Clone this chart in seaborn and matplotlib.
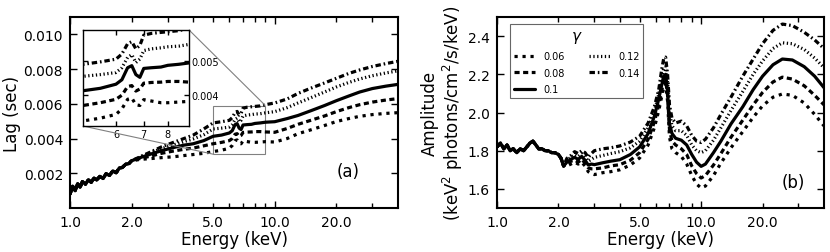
import numpy as np
import pandas as pd
import matplotlib
matplotlib.use("Agg")
import matplotlib.pyplot as plt
import seaborn as sns
from matplotlib.ticker import FixedLocator, FuncFormatter, FormatStrFormatter, NullLocator
from mpl_toolkits.axes_grid1.inset_locator import mark_inset

# ---- panel (a): lag vs energy ----
# below ~2 keV all curves lie on top of each other
e_lo_a = [1.00, 1.03, 1.06, 1.09, 1.12, 1.15, 1.19, 1.23, 1.27, 1.31, 1.35, 1.40,
          1.45, 1.50, 1.56, 1.62, 1.68, 1.74, 1.80, 1.87, 1.94, 2.00]
lag_lo = [0.00080, 0.00125, 0.00100, 0.00140, 0.00120, 0.00152, 0.00138, 0.00162,
          0.00148, 0.00172, 0.00162, 0.00182, 0.00170, 0.00197, 0.00188, 0.00214,
          0.00203, 0.00230, 0.00233, 0.00252, 0.00256, 0.00272]

e_hi_a = [2.2, 2.5, 2.8, 3.2, 3.6, 4.0, 4.5, 5.0, 5.5, 6.0, 6.2, 6.4, 6.55, 6.7, 6.85,
          7.0, 7.3, 7.7, 8.0, 8.5, 9.0, 10.0, 11.5, 13.0, 15.0, 17.5, 20.0, 23.0,
          26.0, 30.0, 35.0, 40.0]
lag_006 = [0.00280, 0.00285, 0.00290, 0.00295, 0.00302, 0.00308, 0.00315, 0.00325,
           0.00333, 0.00344, 0.00360, 0.00388, 0.00392, 0.00372, 0.00370, 0.00387,
           0.00383, 0.00378, 0.00378, 0.00380, 0.00382, 0.00380, 0.00400, 0.00428,
           0.00450, 0.00475, 0.00498, 0.00515, 0.00528, 0.00538, 0.00545, 0.00549]
lag_008 = [0.00285, 0.00300, 0.00315, 0.00328, 0.00338, 0.00345, 0.00358, 0.00370,
           0.00378, 0.00388, 0.00400, 0.00425, 0.00428, 0.00412, 0.00418, 0.00435,
           0.00437, 0.00438, 0.00440, 0.00440, 0.00438, 0.00436, 0.00458, 0.00482,
           0.00505, 0.00530, 0.00555, 0.00578, 0.00595, 0.00610, 0.00622, 0.00630]
lag_010 = [0.00290, 0.00312, 0.00330, 0.00348, 0.00362, 0.00370, 0.00388, 0.00413,
           0.00420, 0.00432, 0.00445, 0.00480, 0.00486, 0.00460, 0.00452, 0.00478,
           0.00480, 0.00482, 0.00487, 0.00490, 0.00494, 0.00497, 0.00515, 0.00533,
           0.00560, 0.00590, 0.00618, 0.00645, 0.00668, 0.00688, 0.00702, 0.00712]
lag_012 = [0.00293, 0.00320, 0.00342, 0.00363, 0.00382, 0.00398, 0.00422, 0.00455,
           0.00460, 0.00466, 0.00480, 0.00510, 0.00518, 0.00495, 0.00505, 0.00530,
           0.00535, 0.00538, 0.00541, 0.00543, 0.00548, 0.00555, 0.00578, 0.00605,
           0.00635, 0.00668, 0.00697, 0.00723, 0.00743, 0.00762, 0.00778, 0.00790]
lag_014 = [0.00295, 0.00325, 0.00352, 0.00378, 0.00400, 0.00420, 0.00455, 0.00490,
           0.00497, 0.00505, 0.00520, 0.00550, 0.00556, 0.00535, 0.00545, 0.00575,
           0.00580, 0.00583, 0.00585, 0.00588, 0.00595, 0.00605, 0.00628, 0.00660,
           0.00690, 0.00720, 0.00747, 0.00775, 0.00795, 0.00815, 0.00832, 0.00845]

# ---- panel (b): amplitude vs energy ----
e_lo_b = [1.00, 1.04, 1.08, 1.12, 1.16, 1.20, 1.25, 1.30, 1.35, 1.40, 1.45, 1.50,
          1.55, 1.60, 1.66, 1.72, 1.78, 1.85, 1.92, 2.00, 2.06, 2.12]
amp_lo = [1.82, 1.84, 1.81, 1.83, 1.80, 1.81, 1.79, 1.81, 1.80, 1.82, 1.84, 1.85,
          1.83, 1.81, 1.81, 1.80, 1.80, 1.79, 1.79, 1.78, 1.76, 1.72]

e_hi_b = [2.2, 2.3, 2.4, 2.5, 2.6, 2.7, 2.8, 2.9, 3.0, 3.3, 3.6, 4.0, 4.5, 5.0, 5.5,
          5.9, 6.2, 6.4, 6.55, 6.7, 6.85, 7.0, 7.2, 7.5, 8.0, 8.5, 9.0, 9.5, 10.0,
          10.5, 11.5, 12.5, 14.0, 16.0, 18.0, 20.0, 22.5, 25.0, 28.0, 32.0, 36.0, 40.0]
amp_006 = [1.72, 1.73, 1.74, 1.73, 1.74, 1.72, 1.69, 1.68, 1.675, 1.685, 1.69, 1.70,
           1.725, 1.762, 1.83, 1.92, 2.01, 2.08, 2.13, 2.15, 2.06, 1.87, 1.81, 1.79,
           1.77, 1.73, 1.67, 1.625, 1.605, 1.615, 1.67, 1.735, 1.815, 1.90, 1.975,
           2.035, 2.08, 2.097, 2.09, 2.05, 1.99, 1.93]
amp_008 = [1.73, 1.745, 1.75, 1.74, 1.755, 1.735, 1.71, 1.705, 1.705, 1.71, 1.72,
           1.727, 1.75, 1.79, 1.86, 1.95, 2.04, 2.11, 2.16, 2.17, 2.09, 1.91, 1.85,
           1.83, 1.81, 1.78, 1.72, 1.68, 1.657, 1.67, 1.725, 1.785, 1.87, 1.96, 2.04,
           2.105, 2.16, 2.185, 2.175, 2.14, 2.09, 2.04]
amp_010 = [1.74, 1.755, 1.765, 1.755, 1.77, 1.75, 1.725, 1.73, 1.727, 1.737, 1.745,
           1.753, 1.78, 1.82, 1.89, 1.98, 2.07, 2.14, 2.19, 2.20, 2.11, 1.94, 1.89,
           1.865, 1.855, 1.83, 1.78, 1.74, 1.718, 1.73, 1.79, 1.85, 1.94, 2.03, 2.12,
           2.19, 2.25, 2.28, 2.275, 2.24, 2.19, 2.13]
amp_012 = [1.75, 1.765, 1.78, 1.77, 1.785, 1.77, 1.745, 1.755, 1.765, 1.775, 1.785,
           1.795, 1.815, 1.85, 1.92, 2.005, 2.095, 2.18, 2.23, 2.24, 2.16, 2.00, 1.93,
           1.905, 1.905, 1.88, 1.83, 1.80, 1.79, 1.80, 1.855, 1.92, 2.01, 2.11, 2.20,
           2.27, 2.335, 2.365, 2.36, 2.33, 2.285, 2.235]
amp_014 = [1.76, 1.775, 1.795, 1.785, 1.80, 1.79, 1.765, 1.785, 1.80, 1.81, 1.815,
           1.825, 1.845, 1.876, 1.945, 2.03, 2.12, 2.22, 2.28, 2.29, 2.20, 2.04, 1.97,
           1.945, 1.955, 1.93, 1.88, 1.85, 1.843, 1.86, 1.92, 1.99, 2.08, 2.19, 2.28,
           2.36, 2.43, 2.463, 2.455, 2.42, 2.38, 2.335]

gammas = ["0.06", "0.08", "0.1", "0.12", "0.14"]
lag_hi = [lag_006, lag_008, lag_010, lag_012, lag_014]
amp_hi = [amp_006, amp_008, amp_010, amp_012, amp_014]
styles = {"0.06": (0, (1.0, 1.5)), "0.08": (0, (1.6, 1.1)), "0.1": "-",
          "0.12": (0, (0.4, 0.8)), "0.14": (0, (1.7, 0.9, 0.5, 0.9))}

sns.set_style("ticks")
plt.rcParams["font.family"] = ["DejaVu Sans"]
plt.rcParams["axes.linewidth"] = 1.5
plt.rcParams["axes.edgecolor"] = "k"
plt.rcParams["text.color"] = "k"
plt.rcParams["axes.labelcolor"] = "k"
plt.rcParams["xtick.color"] = "k"
plt.rcParams["ytick.color"] = "k"
plt.rcParams["mathtext.fontset"] = "dejavusans"

fig = plt.figure(figsize=(8.3, 2.53), dpi=100)
ax1 = fig.add_axes([70 / 830, 44 / 253, 328 / 830, 191 / 253])
ax2 = fig.add_axes([497 / 830, 44 / 253, 327 / 830, 191 / 253])


def setup_energy_axis(ax):
    ax.set_xscale("log")
    ax.set_xlim(1, 40)
    ax.xaxis.set_major_locator(FixedLocator([1, 10]))
    ax.xaxis.set_minor_locator(FixedLocator([2, 3, 4, 5, 6, 7, 8, 9, 20, 30]))
    ax.xaxis.set_major_formatter(FormatStrFormatter("%.1f"))
    ax.xaxis.set_minor_formatter(
        FuncFormatter(lambda v, p: f"{v:.1f}" if round(v) in (2, 5, 20) else ""))
    ax.tick_params(which="both", direction="in", top=True, right=True,
                   labelsize=10, pad=5, width=1, color="k")
    ax.tick_params(which="major", length=5)
    ax.tick_params(which="minor", length=3.5)
    ax.set_xlabel("Energy (keV)", fontsize=12, labelpad=1)


# panel (a)
for g, lag in zip(gammas, lag_hi):
    sns.lineplot(x=e_lo_a + e_hi_a, y=lag_lo + lag, ax=ax1, color="k",
                 linewidth=2.3, linestyle=styles[g])
setup_energy_axis(ax1)
ax1.set_ylim(0, 0.011)
ax1.set_yticks([0.002, 0.004, 0.006, 0.008, 0.010])
ax1.yaxis.set_major_formatter(FormatStrFormatter("%.3f"))
ax1.set_ylabel("Lag (sec)", fontsize=12, labelpad=2)
ax1.text(0.848, 0.194, "(a)", transform=ax1.transAxes, fontsize=12,
         ha="center", va="center")

axins = ax1.inset_axes([0.04, 0.429, 0.323, 0.503])
for g, lag in zip(gammas, lag_hi):
    sns.lineplot(x=e_hi_a, y=lag, ax=axins, color="k", linewidth=2.3,
                 linestyle=styles[g])
axins.set_xscale("log")
axins.set_xlim(5, 9)
axins.set_ylim(0.0031, 0.0059)
axins.xaxis.set_major_locator(FixedLocator([6, 7, 8]))
axins.xaxis.set_minor_locator(NullLocator())
axins.xaxis.set_major_formatter(FormatStrFormatter("%d"))
axins.set_yticks([0.004, 0.005])
axins.yaxis.set_major_formatter(FormatStrFormatter("%.3f"))
axins.tick_params(direction="in", top=True, right=True, left=True,
                  labelleft=False, labelright=True, labelsize=7, length=3.5,
                  width=1, pad=2)
axins.set_xlabel("")
axins.set_ylabel("")
for s in axins.spines.values():
    s.set_linewidth(1)
mark_inset(ax1, axins, loc1=1, loc2=3, fc="none", ec="0.5", lw=0.8)

# panel (b)
for g, amp in zip(gammas, amp_hi):
    sns.lineplot(x=e_lo_b + e_hi_b, y=amp_lo + amp, ax=ax2, color="k",
                 linewidth=2.3, linestyle=styles[g], label=g)
setup_energy_axis(ax2)
ax2.set_ylim(1.5, 2.5)
ax2.set_yticks([1.6, 1.8, 2.0, 2.2, 2.4])
ax2.yaxis.set_major_formatter(FormatStrFormatter("%.1f"))
ax2.set_ylabel("Amplitude\n(keV$^2$ photons/cm$^2$/s/keV)", fontsize=12,
               labelpad=2, linespacing=1.1)
ax2.text(0.905, 0.136, "(b)", transform=ax2.transAxes, fontsize=12,
         ha="center", va="center")
leg = ax2.legend(loc="upper left", bbox_to_anchor=(0.04, 0.963), borderaxespad=0,
                 ncol=2, title=r"$\gamma$", fontsize=7, title_fontsize=11,
                 fancybox=False, framealpha=1, edgecolor="0.4",
                 handlelength=2.2, columnspacing=2.5, labelspacing=0.65)
leg.get_frame().set_linewidth(0.8)

fig.savefig("out.png", dpi=100)
